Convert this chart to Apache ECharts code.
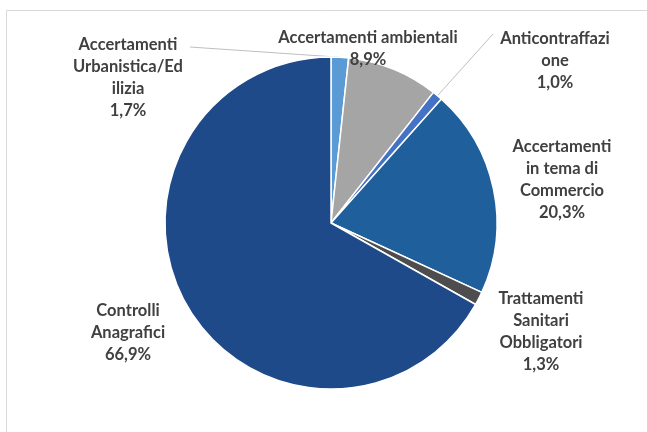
<!DOCTYPE html>
<html>
<head>
<meta charset="utf-8">
<script src="https://cdn.jsdelivr.net/npm/echarts@6/dist/echarts.min.js"></script>
<style>
  html, body { margin: 0; padding: 0; background: #ffffff; }
  #chart { width: 647px; height: 432px; }
</style>
</head>
<body>
<div id="chart"></div>
<script>
// Ripartizione percentuale dei controlli per tipologia
const categories = [
  'Accertamenti\nUrbanistica/Ed\nilizia',
  'Accertamenti ambientali',
  'Anticontraffazi\none',
  'Accertamenti\nin tema di\nCommercio',
  'Trattamenti\nSanitari\nObbligatori',
  'Controlli\nAnagrafici'
];
const percentages = [1.7, 8.9, 1.0, 20.3, 1.3, 66.9];

const sliceColors = ['#5b9bd5', '#a5a5a5', '#4472c4', '#1f5f9c', '#4d4d4d', '#1f4a8a'];

// Label anchor (centre of text block) for each slice, and whether a leader line is drawn
const labelAnchors = [
  { x: 128, y: 78, line: true, lineFrom: [190, 47] },
  { x: 368, y: 49, line: false },
  { x: 555, y: 61, line: true, lineFrom: [493, 34] },
  { x: 562, y: 180, line: false },
  { x: 541, y: 332, line: false },
  { x: 128, y: 333, line: false }
];

const chart = echarts.init(document.getElementById('chart'), null, { renderer: 'canvas' });

const fmt = (v) => v.toFixed(1).replace('.', ',') + '%';

chart.setOption({
  backgroundColor: '#ffffff',
  animation: false,
  graphic: [{
    type: 'rect',
    shape: { x: 6.5, y: 10.5, width: 700, height: 500 },
    style: { fill: 'none', stroke: '#d9d9d9', lineWidth: 1 },
    silent: true,
    z: -1
  }],
  series: [{
    type: 'pie',
    center: [331, 223],
    radius: [0, 166],
    startAngle: 90,
    clockwise: true,
    data: categories.map((name, i) => ({
      name: name,
      value: percentages[i],
      itemStyle: { color: sliceColors[i] }
    })),
    itemStyle: { borderColor: '#ffffff', borderWidth: 1.5 },
    label: {
      show: true,
      position: 'outside',
      formatter: (p) => p.name + '\n' + fmt(p.value),
      fontFamily: 'Lato, "Open Sans", sans-serif',
      fontWeight: 'bold',
      fontSize: 16.5,
      lineHeight: 22,
      color: '#404040',
      align: 'center',
      overflow: 'none',
      width: 300
    },
    labelLine: {
      show: true,
      length: 10,
      length2: 10,
      lineStyle: { color: '#bfbfbf', width: 1 }
    },
    labelLayout: (params) => {
      const a = labelAnchors[params.dataIndex];
      const pts = params.labelLinePoints;
      const out = {
        x: a.x,
        y: a.y,
        align: 'center',
        verticalAlign: 'middle'
      };
      if (a.line && pts) {
        out.labelLinePoints = [pts[0], a.lineFrom, a.lineFrom];
      } else {
        out.labelLinePoints = [[0, 0], [0, 0], [0, 0]];
      }
      return out;
    }
  }]
});
</script>
</body>
</html>
